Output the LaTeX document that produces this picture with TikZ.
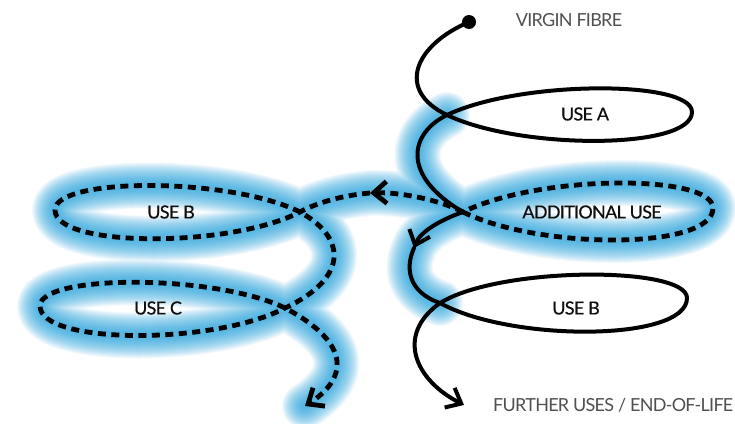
\documentclass[tikz,border=0pt]{standalone}
\usepackage{fontspec}
\setmainfont{Lato}
\usetikzlibrary{arrows.meta}
\definecolor{glowc}{RGB}{30,162,222}
\definecolor{lbl}{RGB}{15,15,15}
\definecolor{soft}{RGB}{80,80,80}
\tikzset{
  solidline/.style={line width=4pt, line cap=round, line join=round, black},
  dashline/.style={line width=4.8pt, dash pattern=on 8pt off 5.5pt, black},
  barb/.style={-{Straight Barb[length=13pt,width=22pt]}},
  lab/.style={font=\fontsize{18}{18}\selectfont\addfontfeatures{LetterSpace=-4,FakeBold=0.5}, text=lbl, inner sep=0pt},
  softlab/.style={font=\fontsize{18}{18}\selectfont\addfontfeatures{LetterSpace=-4}, text=soft, inner sep=0pt},
  glowline/.style={glowc, line cap=round, line join=round}
}
% path tails
\def\tDA{.. controls (415,45) and (395,90) .. (cA)}
\def\tlA{.. controls (520,150) and (692,150) .. (tA) .. controls (692,80) and (520,80) .. (cA)}
\def\tAX{.. controls (410,133) and (400,175) .. (cX)}
\def\tXM{.. controls (440,220) and (420,232) .. (mArr)}
\def\tMB{.. controls (405,268) and (408,292) .. (cB)}
\def\tlB{.. controls (510,342) and (687,342) .. (tB) .. controls (687,266) and (500,266) .. (cB)}
\def\tBE{.. controls (395,335) and (415,380) .. (endR)}
\def\tlX{.. controls (540,250) and (713,250) .. (tX) .. controls (713,174) and (540,174) .. (cX)}
\def\tXD{.. controls (440,200) and (400,192) .. (dArr)}
\def\tDF{.. controls (345,195) and (318,202) .. (cF)}
\def\tlF{.. controls (230,248) and (55,248) .. (tF) .. controls (55,177) and (230,177) .. (cF)}
\def\tFG{.. controls (350,240) and (345,280) .. (cG)}
\def\tlG{.. controls (215,345) and (40,345) .. (tG) .. controls (40,274) and (215,274) .. (cG)}
\def\tGE{.. controls (355,345) and (345,380) .. (endL)}
\begin{document}
\begin{tikzpicture}[x=1pt,y=-1pt]
\fill[white] (0,0) rectangle (735,423);
\useasboundingbox (0,0) rectangle (735,423);
% key points
\coordinate (dot) at (469,22);
\coordinate (cA) at (447,115);
\coordinate (tA) at (692,112);
\coordinate (cX) at (463,212);
\coordinate (tX) at (713,208);
\coordinate (mArr) at (414,248);
\coordinate (cB) at (440,303);
\coordinate (tB) at (687,298);
\coordinate (endR) at (464,405);
\coordinate (dArr) at (370,193);
\coordinate (cF) at (300,212);
\coordinate (tF) at (55,210);
\coordinate (cG) at (285,308);
\coordinate (tG) at (40,306);
\coordinate (endL) at (305,406);
% glow
\foreach \w in {46,44,...,6}{
  \draw[glowline, line width=\w pt, opacity=0.06]
    (cA) \tAX \tXM \tMB
    (cX) \tlX
    (cX) \tXD \tDF \tlF \tFG \tlG \tGE;
}
% solid path
\fill (dot) circle[radius=7pt];
\draw[solidline, barb] (dot) \tDA \tlA \tAX \tXM;
\draw[solidline, barb] (mArr) \tMB \tlB \tBE;
% dashed path
\draw[dashline] (cX) \tlX;
\draw[dashline, barb] (cX) \tXD;
\draw[dashline, barb] (dArr) \tDF \tlF \tFG \tlG \tGE;
% labels
\node[softlab] (virgin) at (569,20) {VIRGIN FIBRE};
\node[lab] (usea) at (585,114) {USE A};
\node[lab] (addl) at (592,212) {ADDITIONAL USE};
\node[lab] (usebr) at (576,308) {USE B};
\node[lab] (usebl) at (171,212) {USE B};
\node[lab] (usec) at (158,308) {USE C};
\node[softlab, anchor=west] (further) at (493,405) {FURTHER USES / END-OF-LIFE};
\end{tikzpicture}
\end{document}
